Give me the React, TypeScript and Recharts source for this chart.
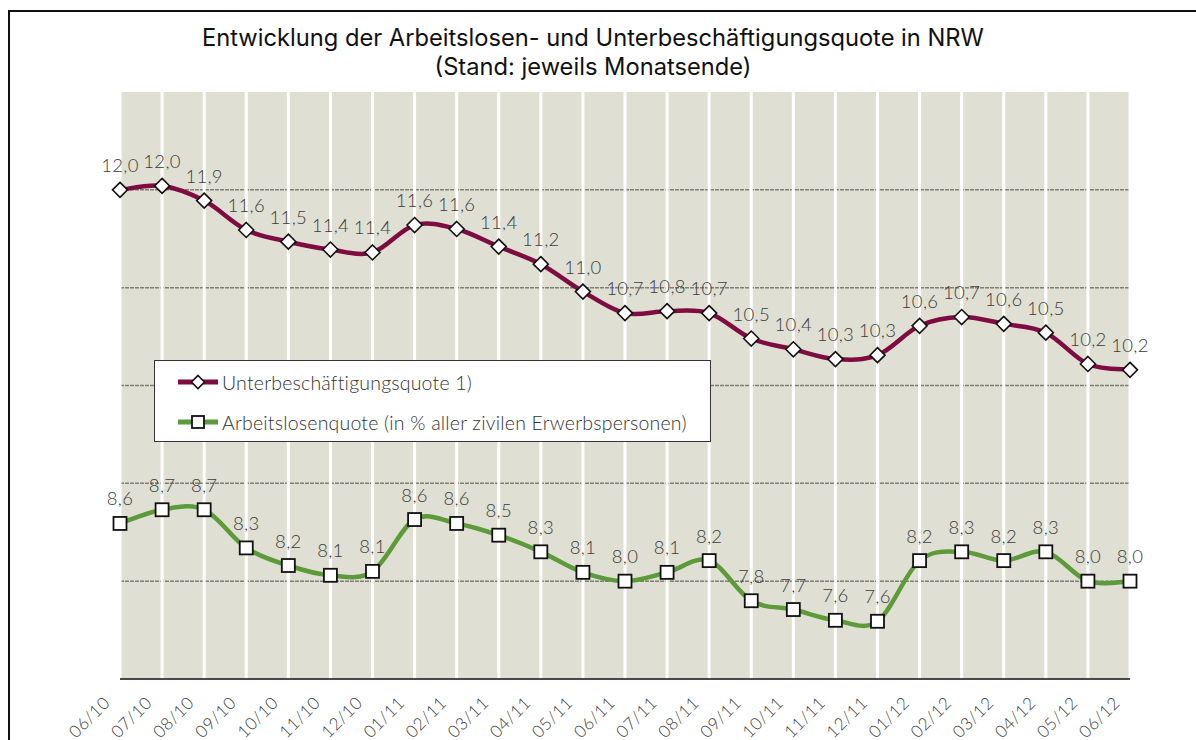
import {
  LineChart,
  Line,
  XAxis,
  YAxis,
  CartesianGrid,
  Legend,
  LabelList,
} from "recharts";

const months = [
  "06/10", "07/10", "08/10", "09/10", "10/10", "11/10", "12/10",
  "01/11", "02/11", "03/11", "04/11", "05/11", "06/11", "07/11",
  "08/11", "09/11", "10/11", "11/11", "12/11", "01/12", "02/12",
  "03/12", "04/12", "05/12", "06/12",
];

// read from the point positions; the printed labels are these rounded to one decimal
const underemployment = [
  12.0, 12.04, 11.89, 11.59, 11.47, 11.39, 11.36, 11.64, 11.6, 11.42, 11.24, 10.96, 10.74,
  10.76, 10.74, 10.48, 10.37, 10.27, 10.31, 10.61, 10.7, 10.63, 10.54, 10.22, 10.16,
];

const unemployment = [
  8.59, 8.73, 8.73, 8.34, 8.16, 8.06, 8.1, 8.63, 8.59, 8.47, 8.3, 8.09, 8.0,
  8.09, 8.21, 7.8, 7.71, 7.6, 7.59, 8.21, 8.3, 8.21, 8.3, 8.0, 8.0,
];

const yTicks = [7, 8, 9, 10, 11, 12, 13];
const gridValues = [8, 9, 10, 11, 12];

const data = months.map((m, i) => ({
  m,
  ub: underemployment[i],
  al: unemployment[i],
}));

const MAROON = "#7f0c40";
const GREEN = "#5c9a3a";
const FONT = "Inter, 'Noto Sans', sans-serif";
const LIGHT = "Lato, 'Noto Sans', sans-serif";

// smooth line like the office-chart spline (catmull-rom through the points)
function splineCurve(context: any) {
  let pts: number[][] = [];
  return {
    areaStart() {},
    areaEnd() {},
    lineStart() {
      pts = [];
    },
    point(x: number, y: number) {
      pts.push([+x, +y]);
    },
    lineEnd() {
      if (!pts.length) return;
      context.moveTo(pts[0][0], pts[0][1]);
      for (let i = 0; i < pts.length - 1; i++) {
        const p0 = pts[Math.max(i - 1, 0)];
        const p1 = pts[i];
        const p2 = pts[i + 1];
        const p3 = pts[Math.min(i + 2, pts.length - 1)];
        context.bezierCurveTo(
          p1[0] + (p2[0] - p0[0]) / 6,
          p1[1] + (p2[1] - p0[1]) / 6,
          p2[0] - (p3[0] - p1[0]) / 6,
          p2[1] - (p3[1] - p1[1]) / 6,
          p2[0],
          p2[1]
        );
      }
    },
  };
}

const Diamond = ({ cx, cy, r = 7.5 }: any) => (
  <path
    d={`M${cx},${cy - r}L${cx + r},${cy}L${cx},${cy + r}L${cx - r},${cy}Z`}
    fill="#fff"
    stroke="#111"
    strokeWidth={1.6}
  />
);

const Square = ({ cx, cy, s = 13 }: any) => (
  <rect
    x={cx - s / 2}
    y={cy - s / 2}
    width={s}
    height={s}
    fill="#fff"
    stroke="#111"
    strokeWidth={1.8}
  />
);

const renderDiamond = (p: any) => <Diamond key={`d-${p.index}`} cx={p.cx} cy={p.cy} />;
const renderSquare = (p: any) => <Square key={`s-${p.index}`} cx={p.cx} cy={p.cy} />;

const ValueLabel = (p: any) => {
  const { x, y, value } = p;
  return (
    <text
      x={x}
      y={y - 18}
      textAnchor="middle"
      fontSize={18.5}
      letterSpacing={0.3}
      fontFamily={LIGHT}
      fontWeight={300}
      fill="#3c3c3c"
    >
      {Number(value).toFixed(1).replace(".", ",")}
    </text>
  );
};

const MonthTick = ({ x, y, payload }: any) => {
  const tx = x - 9;
  const ty = y + 17;
  return (
    <text
      x={tx}
      y={ty}
      transform={`rotate(-45, ${tx}, ${ty})`}
      textAnchor="end"
      fontSize={17}
      letterSpacing={0.5}
      fontFamily={LIGHT}
      fontWeight={300}
      fill="#3c3c3c"
    >
      {payload.value}
    </text>
  );
};

const legendItems = [
  { label: "Unterbeschäftigungsquote 1)", color: MAROON, shape: "diamond" },
  { label: "Arbeitslosenquote (in % aller zivilen Erwerbspersonen)", color: GREEN, shape: "square" },
];

const LegendBox = () => (
  <div
    style={{
      width: 557,
      height: 82,
      background: "#fff",
      border: "1px solid #333",
      boxSizing: "border-box",
      paddingTop: 1,
      fontFamily: LIGHT,
      fontWeight: 300,
      color: "#333",
    }}
  >
    {legendItems.map((item) => (
      <div key={item.label} style={{ display: "flex", alignItems: "center", height: 40, paddingLeft: 23 }}>
        <svg width={42} height={20} style={{ marginRight: 2 }}>
          <line x1={0} y1={10} x2={40} y2={10} stroke={item.color} strokeWidth={5} />
          {item.shape === "diamond" ? <Diamond cx={20} cy={10} r={6.5} /> : <Square cx={20} cy={10} s={12} />}
        </svg>
        <span style={{ fontSize: 19.5, letterSpacing: 0.2 }}>{item.label}</span>
      </div>
    ))}
  </div>
);

export default function App() {
  return (
    <div style={{ position: "absolute", left: 0, top: 0, width: 1196, height: 740, background: "#fff", overflow: "hidden" }}>
      <div
        style={{
          position: "absolute",
          left: 8,
          top: 10,
          width: 1300,
          height: 800,
          borderTop: "2px solid #111",
          borderLeft: "2px solid #111",
        }}
      />
      <div
        style={{
          position: "absolute",
          left: 0,
          top: 23,
          width: 1186,
          textAlign: "center",
          fontFamily: FONT,
          fontSize: 23.7,
          lineHeight: "29px",
          color: "#111",
        }}
      >
        Entwicklung der Arbeitslosen- und Unterbeschäftigungsquote in NRW
        <br />
        (Stand: jeweils Monatsende)
      </div>
      <div style={{ position: "absolute", left: 0, top: 0 }}>
        <LineChart width={1196} height={740} data={data} margin={{ top: 92, right: 66, left: 120, bottom: 0 }}>
          <CartesianGrid
            vertical={false}
            horizontalValues={gridValues}
            stroke="#7f7f77"
            strokeDasharray="4 1"
            strokeWidth={1.5}
            fill="#dfe0d3"
            fillOpacity={1}
          />
          <CartesianGrid horizontal={false} stroke="#ffffff" strokeWidth={3} />
          <XAxis
            dataKey="m"
            interval={0}
            height={61}
            tickLine={false}
            axisLine={{ stroke: "#111", strokeWidth: 1.5 }}
            tick={<MonthTick />}
          />
          <YAxis hide domain={[7, 13]} ticks={yTicks} />
          <Legend
            layout="vertical"
            verticalAlign="middle"
            align="center"
            wrapperStyle={{ left: 154, top: 360, width: 557 }}
            content={<LegendBox />}
          />
          <Line
            dataKey="ub"
            name="Unterbeschäftigungsquote 1)"
            type={splineCurve as any}
            stroke={MAROON}
            strokeWidth={4.5}
            dot={renderDiamond}
            activeDot={false}
            isAnimationActive={false}
          >
            <LabelList dataKey="ub" content={<ValueLabel />} />
          </Line>
          <Line
            dataKey="al"
            name="Arbeitslosenquote (in % aller zivilen Erwerbspersonen)"
            type={splineCurve as any}
            stroke={GREEN}
            strokeWidth={4.5}
            dot={renderSquare}
            activeDot={false}
            isAnimationActive={false}
          >
            <LabelList dataKey="al" content={<ValueLabel />} />
          </Line>
        </LineChart>
      </div>
    </div>
  );
}
